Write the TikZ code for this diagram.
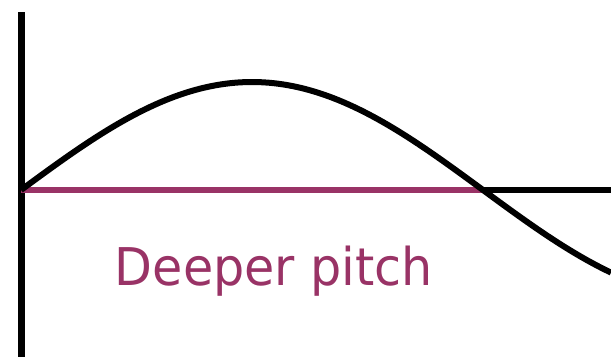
\documentclass[tikz,border=0pt]{standalone}
\usepackage{fontspec}
\setmainfont{DejaVu Sans}
\definecolor{pitch}{HTML}{993366}
\tikzset{axisline/.style={line width=7pt, black},
         baseline/.style={line width=6pt, pitch},
         wave/.style={line width=6pt, black, line join=round}}
\begin{document}
\begin{tikzpicture}[x=1pt, y=-1pt]
\useasboundingbox (0,0) rectangle (611,357);
\coordinate (top) at (21,12);
\coordinate (bot) at (21,357);
\coordinate (o) at (21,190);
\coordinate (cross) at (483,190);
\coordinate (right) at (611,190);
\draw[axisline] (top) -- (bot);
\draw[axisline, line width=6pt] (cross) -- (right);
\draw[baseline] (o) -- (cross);
\draw[wave] plot[domain=21:611, samples=120] (\x, {190 - 108*sin((\x-21)/462*180)});
\node[anchor=base, text=pitch, font=\fontsize{52}{60}\selectfont, xscale=0.946, inner sep=0] (lbl) at (274,285) {Deeper pitch};
\end{tikzpicture}
\end{document}
